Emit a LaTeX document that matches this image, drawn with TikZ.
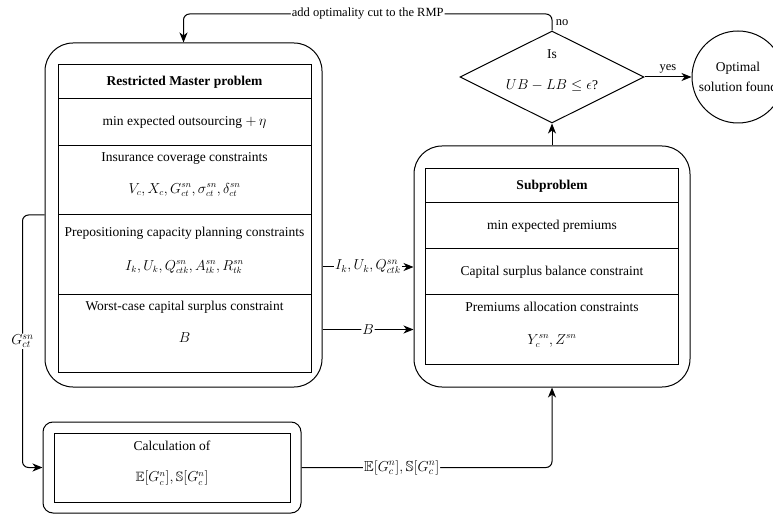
\documentclass[tikz,border=0pt]{standalone}
\usepackage{amsmath,amssymb}
\usepackage{fontspec}
\setmainfont{Liberation Serif}
\usetikzlibrary{positioning,arrows.meta,shapes.geometric}

\begin{document}
\begin{tikzpicture}[
  x=1pt, y=-1pt,
  font=\fontsize{13.5}{16}\selectfont,
  frameN/.style={draw, line width=1pt, rounded corners=28pt, inner sep=0pt},
  rowN/.style={draw, line width=1pt, minimum width=253pt, outer sep=0pt, inner sep=0pt},
  txtN/.style={inner sep=1pt},
  conn/.style={line width=1pt, rounded corners=6pt, -{Stealth[length=10pt,width=8pt,inset=3pt]}},
  lbl/.style={fill=white, inner sep=1pt, font=\fontsize{12.5}{15}\selectfont},
  mlbl/.style={fill=white, inner sep=1pt, font=\fontsize{14.5}{17}\selectfont}
]
\useasboundingbox (0,0) rectangle (773,518);
% Outer frames
\node[frameN, minimum width=277pt, minimum height=344pt] (rmp) at (183.5,215) {};
\node[frameN, minimum width=276pt, minimum height=241pt] (sub) at (552,266.5) {};
\node[frameN, rounded corners=10pt, minimum width=258pt, minimum height=91pt] (calc) at (172,467.5) {};
% Restricted master problem rows
\node[rowN, minimum height=34pt, anchor=north] (m1) at (184.5,65) {\textbf{Restricted Master problem}};
\node[rowN, minimum height=47pt, below=0pt of m1] (m2) {$\min$ expected outsourcing $+\,\eta$};
\node[rowN, minimum height=69pt, below=0pt of m2] (m3) {};
\node[rowN, minimum height=80pt, below=0pt of m3] (m4) {};
\node[rowN, minimum height=77pt, below=0pt of m4] (m5) {};
\node[txtN] (m3a) at (184.5,158) {Insurance coverage constraints};
\node[txtN] (m3b) at (184.5,190) {$V_c, X_c, G_{ct}^{sn}, \sigma_{ct}^{sn}, \delta_{ct}^{sn}$};
\node[txtN] (m4a) at (184.5,233) {Prepositioning capacity planning constraints};
\node[txtN] (m4b) at (184.5,267) {$I_k, U_k, Q_{ctk}^{sn}, A_{tk}^{sn}, R_{tk}^{sn}$};
\node[txtN] (m5a) at (184.5,307) {Worst-case capital surplus constraint};
\node[txtN] (m5b) at (184.5,338) {$B$};
% Subproblem rows
\node[rowN, minimum height=34pt, anchor=north] (s1) at (552,169) {\textbf{Subproblem}};
\node[rowN, minimum height=46pt, below=0pt of s1] (s2) {$\min$ expected premiums};
\node[rowN, minimum height=46pt, below=0pt of s2] (s3) {Capital surplus balance constraint};
\node[rowN, minimum height=69pt, below=0pt of s3] (s4) {};
\node[txtN] (s4a) at (552,307) {Premiums allocation constraints};
\node[txtN] (s4b) at (552,341) {$Y_c^{sn}, Z^{sn}$};
% Calculation box
\node[rowN, minimum width=236pt, minimum height=69pt] (c1) at (172,467.5) {};
\node[txtN] (c1a) at (172,446) {Calculation of};
\node[txtN] (c1b) at (172,478) {$\mathbb{E}[G_c^n], \mathbb{S}[G_c^n]$};
% Decision and end
\node[draw, diamond, line width=1pt, minimum width=184pt, minimum height=92pt, inner sep=0pt] (dia) at (552,77) {};
\node[txtN, align=center] (diatxt) at (552,71) {Is\\[15pt]$UB-LB\le\epsilon$?};
\node[draw, circle, line width=1pt, minimum size=92pt, inner sep=0pt, align=center] (opt) at (738,77) {Optimal\\[4pt]solution found};
% Connectors
\coordinate (loop) at (0,14);
\draw[conn] (dia.north) |- node[pos=0.25, right, font=\fontsize{12.5}{15}\selectfont]{no}
  node[pos=0.75, lbl]{add optimality cut to the RMP} (rmp.north |- loop) -- (rmp.north);
\draw[conn] (dia.east) -- node[above, font=\fontsize{12.5}{15}\selectfont]{yes} (opt.west);
\draw[conn] (sub.north) -- (dia.south);
\draw[conn] (rmp.east |- m4b) -- node[mlbl]{$I_k, U_k, Q_{ctk}^{sn}$} (sub.west |- m4b);
\draw[conn] (rmp.east |- s4) -- node[mlbl]{$B$} (sub.west |- s4);
\draw[conn] (rmp.west |- m4.north) -- ++(-22,0) |- node[pos=0.25, mlbl]{$G_{ct}^{sn}$} (calc.west);
\draw[conn] (calc.east) -| node[pos=0.2, mlbl]{$\mathbb{E}[G_c^n], \mathbb{S}[G_c^n]$} (sub.south);
\end{tikzpicture}
\end{document}
